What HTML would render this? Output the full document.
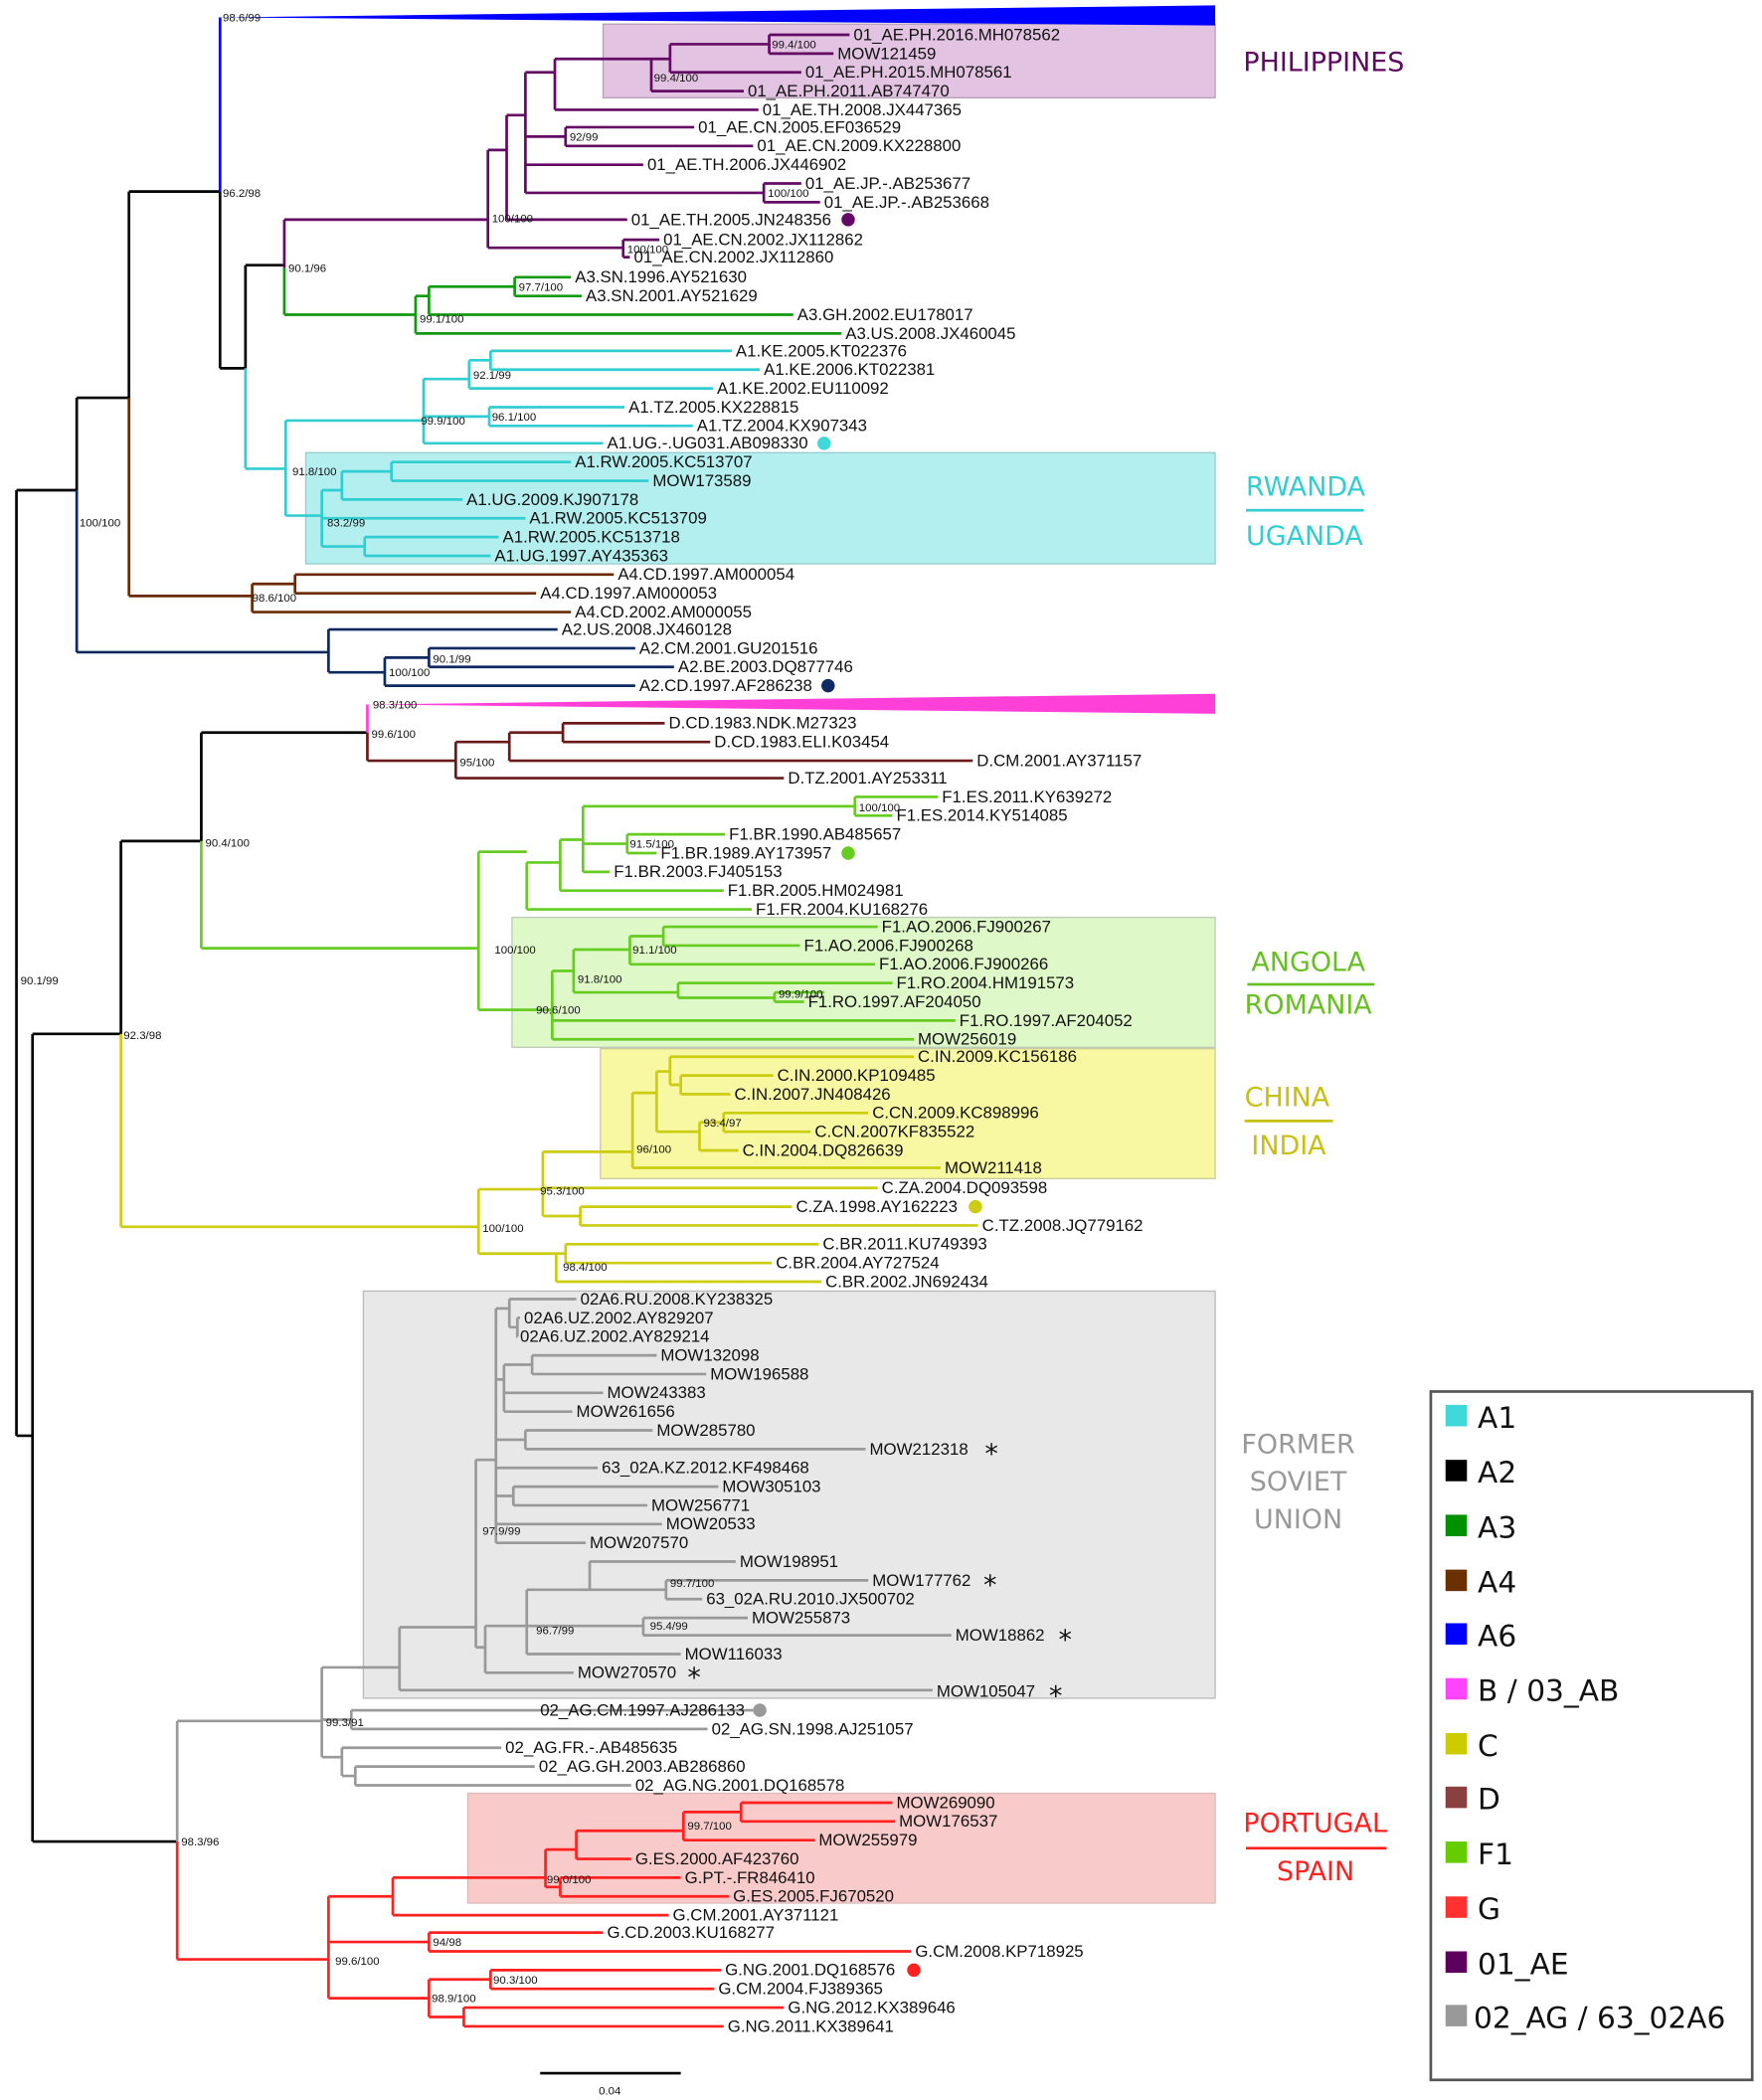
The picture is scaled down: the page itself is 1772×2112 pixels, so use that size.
<!DOCTYPE html>
<html><head><meta charset="utf-8"><style>
html,body{margin:0;padding:0;background:#fff;}
svg{display:block;}
.t{font-family:"Liberation Sans Narrow","Liberation Sans",sans-serif;font-size:12.5px;fill:#111;}
.s{font-family:"Liberation Sans Narrow","Liberation Sans",sans-serif;font-size:8.5px;fill:#111;}
.r{font-family:"DejaVu Sans","Liberation Sans",sans-serif;font-size:20px;}
.lg{font-family:"DejaVu Sans","Liberation Sans",sans-serif;font-size:22px;fill:#111;}
path{fill:none;stroke-width:2;}
</style></head><body>
<svg width="1772" height="2112" viewBox="0 0 1315 1568" xmlns="http://www.w3.org/2000/svg">
<rect x="0" y="0" width="1315" height="1568" fill="#fff"/>
<!-- boxes -->
<rect x="450" y="18" width="457" height="55" fill="#e2c3e2" stroke="#b9a0b9"/>
<rect x="228" y="338" width="679" height="83" fill="#b4eff0" stroke="#9cc"/>
<rect x="382" y="685" width="525" height="97" fill="#dff8c8" stroke="#bcb"/>
<rect x="448" y="783" width="459" height="97" fill="#f8f7a2" stroke="#cc9"/>
<rect x="271" y="964" width="636" height="304" fill="#e8e8e8" stroke="#bbb"/>
<rect x="349" y="1339" width="558" height="82" fill="#f9caca" stroke="#dbb"/>
<!-- triangles -->
<polygon points="164,13 907,4 907,19" fill="#0000ff"/>
<polygon points="274,526 907,518 907,533" fill="#ff40d8"/>
<!-- black backbone -->
<path stroke="#000" d="M12 366V1072 M12 366H57 M12 1072H24 M57 297V366 M57 297H96 M96 143V297 M96 143H164 M164 143V275 M164 275H183 M183 198V275 M183 198H212 M24 772V1375 M24 772H90 M24 1375H132 M90 628V772 M90 628H150 M150 547V628 M150 547H274"/>
<path stroke="#0000ff" d="M164 13V143"/>
<!-- purple 01_AE -->
<path stroke="#640a64" d="M212 164V200 M212 164H364 M364 112V185 M364 112H378 M364 185H465 M465 179V192 M465 179H492 M465 192H470 M378 86V164 M378 86H392 M378 164H468 M392 54V144 M392 54H414 M392 102H422 M392 123H480 M392 144H570 M414 44V82 M414 44H486 M414 82H566 M486 44V68 M486 44H500 M486 68H555 M500 33V54 M500 33H574 M500 54H598 M574 26V40 M574 26H634 M574 40H622 M422 95V109 M422 95H518 M422 109H562 M570 137V151 M570 137H598 M570 151H612"/>
<!-- green A3 -->
<path stroke="#109a10" d="M212 200V235 M212 235H310 M310 221V249 M310 221H320 M310 249H628 M320 214V235 M320 214H384 M320 235H592 M384 207V221 M384 207H426 M384 221H434"/>
<!-- cyan A1 -->
<path stroke="#30cdd2" d="M183 275V350 M183 350H213 M213 314V385 M213 314H316 M213 385H240 M316 283V331 M316 283H350 M316 311H365 M316 331H450 M350 269V290 M350 269H366 M350 290H532 M366 262V276 M366 262H546 M366 276H567 M365 304V318 M365 304H466 M365 318H517 M240 366V408 M240 366H255 M240 387H392 M240 408H272 M255 352V373 M255 352H292 M255 373H345 M292 345V359 M292 345H426 M292 359H484 M272 401V415 M272 401H372 M272 415H366"/>
<!-- brown A4 -->
<path stroke="#6a2a00" d="M96 297V445 M96 445H188 M188 436V457 M188 436H220 M188 457H426 M220 429V443 M220 429H458 M220 443H400"/>
<!-- navy A2 -->
<path stroke="#0f2a60" d="M57 366V487 M57 487H245 M245 470V502 M245 470H416 M245 502H287 M287 491V512 M287 491H320 M287 512H474 M320 484V498 M320 484H474 M320 498H503"/>
<!-- pink -->
<path stroke="#ff40d8" d="M274 526V547"/>
<!-- D -->
<path stroke="#6a1a1a" d="M274 547V568 M274 568H340 M340 554V581 M340 554H380 M340 581H585 M380 547V568 M380 547H420 M380 568H726 M420 540V554 M420 540H496 M420 554H530"/>
<!-- F1 -->
<path stroke="#66cc22" d="M150 628V708 M150 708H357 M357 636V754 M357 636H393 M357 754H412 M393 644V679 M393 644H418 M393 679H561 M418 627V665 M418 627H435 M418 665H540 M435 602V651 M435 602H638 M435 630H468 M435 651H455 M638 595V609 M638 595H700 M638 609H666 M468 623V637 M468 623H541 M468 637H490 M412 725V776 M412 725H428 M412 762H713 M412 776H682 M428 709V741 M428 709H470 M428 741H506 M470 699V720 M470 699H495 M470 720H653 M495 692V706 M495 692H655 M495 706H597 M506 734V745 M506 734H666 M506 745H578 M578 741V748 M578 741H615 M578 748H600"/>
<!-- C -->
<path stroke="#cccc10" d="M90 772V916 M90 916H357 M357 888V936 M357 888H405 M357 936H415 M415 936V957 M415 936H422 M415 957H613 M422 929V943 M422 929H611 M422 943H576 M405 860V908 M405 860H472 M405 887H655 M405 908H433 M433 901V915 M433 901H591 M433 915H730 M472 816V872 M472 816H490 M472 872H702 M490 800V845 M490 800H500 M490 845H522 M500 789V810 M500 789H682 M500 810H508 M508 803V817 M508 803H577 M508 817H545 M522 838V859 M522 838H540 M522 859H551 M540 831V845 M540 831H648 M540 845H605"/>
<!-- grey -->
<path stroke="#999" d="M132 1285V1375 M132 1285H240 M240 1245V1312 M240 1245H298 M240 1284H262 M240 1312H255 M262 1277V1291 M262 1277H562 M262 1291H528 M255 1305V1326 M255 1305H374 M255 1326H265 M265 1319V1333 M265 1319H399 M265 1333H471 M298 1215V1262 M298 1215H355 M298 1262H696 M355 1090V1230 M355 1090H370 M355 1230H362 M370 977V1152 M370 977H380 M370 1030H376 M370 1075H392 M370 1096H446 M370 1117H383 M370 1138H494 M370 1152H437 M380 970V991 M380 970H430 M380 991H386 M386 984V998 M386 984H388 M386 998H385 M376 1019V1054 M376 1019H397 M376 1040H450 M376 1054H427 M397 1012V1026 M397 1012H490 M397 1026H527 M392 1068V1082 M392 1068H487 M392 1082H646 M383 1110V1124 M383 1110H536 M383 1124H483 M362 1214V1249 M362 1214H393 M362 1249H428 M393 1187V1235 M393 1187H440 M393 1214H480 M393 1235H508 M440 1166V1187 M440 1166H549 M440 1187H497 M497 1180V1194 M497 1180H648 M497 1194H524 M480 1208V1221 M480 1208H558 M480 1221H710"/>
<!-- red G -->
<path stroke="#ff2020" d="M132 1375V1463 M132 1463H245 M245 1416V1492 M245 1416H293 M245 1450H320 M245 1492H320 M293 1402V1430 M293 1402H407 M293 1430H499 M407 1381V1409 M407 1381H430 M407 1409H418 M418 1402V1416 M418 1402H508 M418 1416H544 M430 1367V1388 M430 1367H510 M430 1388H471 M510 1353V1374 M510 1353H553 M510 1374H608 M553 1346V1360 M553 1346H666 M553 1360H668 M320 1443V1457 M320 1443H450 M320 1457H680 M320 1478V1506 M320 1478H366 M320 1506H346 M366 1471V1485 M366 1471H538 M366 1485H533 M346 1499V1513 M346 1499H585 M346 1513H540"/>
<!-- leaf labels -->
<g class="t">
<text x="637" y="30">01_AE.PH.2016.MH078562</text>
<text x="625" y="44">MOW121459</text>
<text x="601" y="58">01_AE.PH.2015.MH078561</text>
<text x="558" y="72">01_AE.PH.2011.AB747470</text>
<text x="569" y="86">01_AE.TH.2008.JX447365</text>
<text x="521" y="99">01_AE.CN.2005.EF036529</text>
<text x="565" y="113">01_AE.CN.2009.KX228800</text>
<text x="483" y="127">01_AE.TH.2006.JX446902</text>
<text x="601" y="141">01_AE.JP.-.AB253677</text>
<text x="615" y="155">01_AE.JP.-.AB253668</text>
<text x="471" y="168">01_AE.TH.2005.JN248356</text>
<text x="495" y="183">01_AE.CN.2002.JX112862</text>
<text x="473" y="196">01_AE.CN.2002.JX112860</text>
<text x="429" y="211">A3.SN.1996.AY521630</text>
<text x="437" y="225">A3.SN.2001.AY521629</text>
<text x="595" y="239">A3.GH.2002.EU178017</text>
<text x="631" y="253">A3.US.2008.JX460045</text>
<text x="549" y="266">A1.KE.2005.KT022376</text>
<text x="570" y="280">A1.KE.2006.KT022381</text>
<text x="535" y="294">A1.KE.2002.EU110092</text>
<text x="469" y="308">A1.TZ.2005.KX228815</text>
<text x="520" y="322">A1.TZ.2004.KX907343</text>
<text x="453" y="335">A1.UG.-.UG031.AB098330</text>
<text x="429" y="349">A1.RW.2005.KC513707</text>
<text x="487" y="363">MOW173589</text>
<text x="348" y="377">A1.UG.2009.KJ907178</text>
<text x="395" y="391">A1.RW.2005.KC513709</text>
<text x="375" y="405">A1.RW.2005.KC513718</text>
<text x="369" y="419">A1.UG.1997.AY435363</text>
<text x="461" y="433">A4.CD.1997.AM000054</text>
<text x="403" y="447">A4.CD.1997.AM000053</text>
<text x="429" y="461">A4.CD.2002.AM000055</text>
<text x="419" y="474">A2.US.2008.JX460128</text>
<text x="477" y="488">A2.CM.2001.GU201516</text>
<text x="506" y="502">A2.BE.2003.DQ877746</text>
<text x="477" y="516">A2.CD.1997.AF286238</text>
<text x="499" y="544">D.CD.1983.NDK.M27323</text>
<text x="533" y="558">D.CD.1983.ELI.K03454</text>
<text x="729" y="572">D.CM.2001.AY371157</text>
<text x="588" y="585">D.TZ.2001.AY253311</text>
<text x="703" y="599">F1.ES.2011.KY639272</text>
<text x="669" y="613">F1.ES.2014.KY514085</text>
<text x="544" y="627">F1.BR.1990.AB485657</text>
<text x="493" y="641">F1.BR.1989.AY173957</text>
<text x="458" y="655">F1.BR.2003.FJ405153</text>
<text x="543" y="669">F1.BR.2005.HM024981</text>
<text x="564" y="683">F1.FR.2004.KU168276</text>
<text x="658" y="696">F1.AO.2006.FJ900267</text>
<text x="600" y="710">F1.AO.2006.FJ900268</text>
<text x="656" y="724">F1.AO.2006.FJ900266</text>
<text x="669" y="738">F1.RO.2004.HM191573</text>
<text x="603" y="752">F1.RO.1997.AF204050</text>
<text x="716" y="766">F1.RO.1997.AF204052</text>
<text x="685" y="780">MOW256019</text>
<text x="685" y="793">C.IN.2009.KC156186</text>
<text x="580" y="807">C.IN.2000.KP109485</text>
<text x="548" y="821">C.IN.2007.JN408426</text>
<text x="651" y="835">C.CN.2009.KC898996</text>
<text x="608" y="849">C.CN.2007KF835522</text>
<text x="554" y="863">C.IN.2004.DQ826639</text>
<text x="705" y="876">MOW211418</text>
<text x="658" y="891">C.ZA.2004.DQ093598</text>
<text x="594" y="905">C.ZA.1998.AY162223</text>
<text x="733" y="919">C.TZ.2008.JQ779162</text>
<text x="614" y="933">C.BR.2011.KU749393</text>
<text x="579" y="947">C.BR.2004.AY727524</text>
<text x="616" y="961">C.BR.2002.JN692434</text>
<text x="433" y="974">02A6.RU.2008.KY238325</text>
<text x="391" y="988">02A6.UZ.2002.AY829207</text>
<text x="388" y="1002">02A6.UZ.2002.AY829214</text>
<text x="493" y="1016">MOW132098</text>
<text x="530" y="1030">MOW196588</text>
<text x="453" y="1044">MOW243383</text>
<text x="430" y="1058">MOW261656</text>
<text x="490" y="1072">MOW285780</text>
<text x="649" y="1086">MOW212318</text>
<text x="449" y="1100">63_02A.KZ.2012.KF498468</text>
<text x="539" y="1114">MOW305103</text>
<text x="486" y="1128">MOW256771</text>
<text x="497" y="1142">MOW20533</text>
<text x="440" y="1156">MOW207570</text>
<text x="552" y="1170">MOW198951</text>
<text x="651" y="1184">MOW177762</text>
<text x="527" y="1198">63_02A.RU.2010.JX500702</text>
<text x="561" y="1212">MOW255873</text>
<text x="713" y="1225">MOW18862</text>
<text x="511" y="1239">MOW116033</text>
<text x="431" y="1253">MOW270570</text>
<text x="699" y="1267">MOW105047</text>
<text x="403" y="1281">02_AG.CM.1997.AJ286133</text>
<text x="531" y="1295">02_AG.SN.1998.AJ251057</text>
<text x="377" y="1309">02_AG.FR.-.AB485635</text>
<text x="402" y="1323">02_AG.GH.2003.AB286860</text>
<text x="474" y="1337">02_AG.NG.2001.DQ168578</text>
<text x="669" y="1350">MOW269090</text>
<text x="671" y="1364">MOW176537</text>
<text x="611" y="1378">MOW255979</text>
<text x="474" y="1392">G.ES.2000.AF423760</text>
<text x="511" y="1406">G.PT.-.FR846410</text>
<text x="547" y="1420">G.ES.2005.FJ670520</text>
<text x="502" y="1434">G.CM.2001.AY371121</text>
<text x="453" y="1447">G.CD.2003.KU168277</text>
<text x="683" y="1461">G.CM.2008.KP718925</text>
<text x="541" y="1475">G.NG.2001.DQ168576</text>
<text x="536" y="1489">G.CM.2004.FJ389365</text>
<text x="588" y="1503">G.NG.2012.KX389646</text>
<text x="543" y="1517">G.NG.2011.KX389641</text>
</g>
<text class="t" x="403" y="1281" fill="none"></text>
<!-- dots -->
<circle cx="633" cy="164" r="5" fill="#640a64"/>
<circle cx="615" cy="331" r="5" fill="#40d8d8"/>
<circle cx="618" cy="512" r="5" fill="#0f2a60"/>
<circle cx="633" cy="637" r="5" fill="#66cc22"/>
<circle cx="728" cy="901" r="5" fill="#cccc10"/>
<circle cx="567" cy="1277" r="5" fill="#999"/>
<circle cx="682" cy="1471" r="5" fill="#ff2020"/>
<!-- asterisks -->
<g font-family="DejaVu Sans,sans-serif" font-size="20" fill="#111">
<text x="735" y="1092">*</text><text x="734" y="1190">*</text><text x="790" y="1231">*</text><text x="513" y="1259">*</text><text x="783" y="1273">*</text>
</g>
<!-- support values -->
<g class="s">
<text x="166" y="16">98.6/99</text>
<text x="166" y="147">96.2/98</text>
<text x="576" y="36">99.4/100</text>
<text x="488" y="61">99.4/100</text>
<text x="425" y="105">92/99</text>
<text x="573" y="147">100/100</text>
<text x="367" y="166">100/100</text>
<text x="468" y="189">100/100</text>
<text x="215" y="203">90.1/96</text>
<text x="387" y="217">97.7/100</text>
<text x="313" y="241">99.1/100</text>
<text x="353" y="283">92.1/99</text>
<text x="367" y="314">96.1/100</text>
<text x="314" y="317">99.9/100</text>
<text x="218" y="355">91.8/100</text>
<text x="244" y="393">83.2/99</text>
<text x="59" y="393">100/100</text>
<text x="188" y="449">98.6/100</text>
<text x="323" y="495">90.1/99</text>
<text x="290" y="505">100/100</text>
<text x="278" y="529">98.3/100</text>
<text x="277" y="551">99.6/100</text>
<text x="343" y="572">95/100</text>
<text x="641" y="606">100/100</text>
<text x="470" y="633">91.5/100</text>
<text x="153" y="632">90.4/100</text>
<text x="369" y="712">100/100</text>
<text x="472" y="712">91.1/100</text>
<text x="431" y="734">91.8/100</text>
<text x="581" y="745">99.9/100</text>
<text x="400" y="757">90.6/100</text>
<text x="15" y="735">90.1/99</text>
<text x="92" y="776">92.3/98</text>
<text x="525" y="841">93.4/97</text>
<text x="475" y="861">96/100</text>
<text x="403" y="892">95.3/100</text>
<text x="360" y="920">100/100</text>
<text x="420" y="949">98.4/100</text>
<text x="360" y="1146">97.9/99</text>
<text x="500" y="1185">99.7/100</text>
<text x="485" y="1217">95.4/99</text>
<text x="400" y="1220">96.7/99</text>
<text x="243" y="1289">99.3/91</text>
<text x="513" y="1366">99.7/100</text>
<text x="135" y="1378">98.3/96</text>
<text x="408" y="1406">99.0/100</text>
<text x="323" y="1453">94/98</text>
<text x="250" y="1467">99.6/100</text>
<text x="368" y="1481">90.3/100</text>
<text x="322" y="1495">98.9/100</text>
</g>
<!-- region labels -->
<text class="r" x="928" y="53" fill="#5e0a5e">PHILIPPINES</text>
<text class="r" x="930" y="370" fill="#30cdd2">RWANDA</text>
<rect x="930" y="380" width="88" height="2" fill="#30cdd2"/>
<text class="r" x="930" y="407" fill="#30cdd2">UGANDA</text>
<text class="r" x="934" y="725" fill="#66c022">ANGOLA</text>
<rect x="931" y="734" width="95" height="2" fill="#66c022"/>
<text class="r" x="929" y="757" fill="#66c022">ROMANIA</text>
<text class="r" x="929" y="826" fill="#c8c010">CHINA</text>
<rect x="929" y="836" width="66" height="2" fill="#c8c010"/>
<text class="r" x="934" y="862" fill="#c8c010">INDIA</text>
<text class="r" x="969" y="1085" fill="#999" text-anchor="middle">FORMER</text>
<text class="r" x="969" y="1113" fill="#999" text-anchor="middle">SOVIET</text>
<text class="r" x="969" y="1141" fill="#999" text-anchor="middle">UNION</text>
<text class="r" x="928" y="1368" fill="#ff2020">PORTUGAL</text>
<rect x="930" y="1379" width="105" height="2" fill="#ff2020"/>
<text class="r" x="953" y="1404" fill="#ff2020">SPAIN</text>
<!-- legend -->
<rect x="1068" y="1039" width="240" height="514" fill="#fff" stroke="#555" stroke-width="2"/>
<g>
<rect x="1079" y="1049" width="16" height="16" fill="#40d8d8"/><text class="lg" x="1103" y="1066">A1</text>
<rect x="1079" y="1090" width="16" height="16" fill="#000"/><text class="lg" x="1103" y="1107">A2</text>
<rect x="1079" y="1131" width="16" height="16" fill="#009000"/><text class="lg" x="1103" y="1148">A3</text>
<rect x="1079" y="1172" width="16" height="16" fill="#6a3000"/><text class="lg" x="1103" y="1189">A4</text>
<rect x="1079" y="1212" width="16" height="16" fill="#0000ff"/><text class="lg" x="1103" y="1229">A6</text>
<rect x="1079" y="1253" width="16" height="16" fill="#ff44ff"/><text class="lg" x="1103" y="1270">B / 03_AB</text>
<rect x="1079" y="1294" width="16" height="16" fill="#cccc00"/><text class="lg" x="1103" y="1311">C</text>
<rect x="1079" y="1334" width="16" height="16" fill="#8b4040"/><text class="lg" x="1103" y="1351">D</text>
<rect x="1079" y="1375" width="16" height="16" fill="#66cc00"/><text class="lg" x="1103" y="1392">F1</text>
<rect x="1079" y="1416" width="16" height="16" fill="#ff3030"/><text class="lg" x="1103" y="1433">G</text>
<rect x="1079" y="1457" width="16" height="16" fill="#5e005e"/><text class="lg" x="1103" y="1474">01_AE</text>
<rect x="1079" y="1497" width="16" height="16" fill="#999"/><text class="lg" x="1100" y="1514">02_AG / 63_02A6</text>
</g>
<!-- scale -->
<path stroke="#000" stroke-width="1.5" d="M403 1548H508"/>
<text class="s" x="455" y="1564" text-anchor="middle" font-size="10">0.04</text>
</svg>
</body></html>
